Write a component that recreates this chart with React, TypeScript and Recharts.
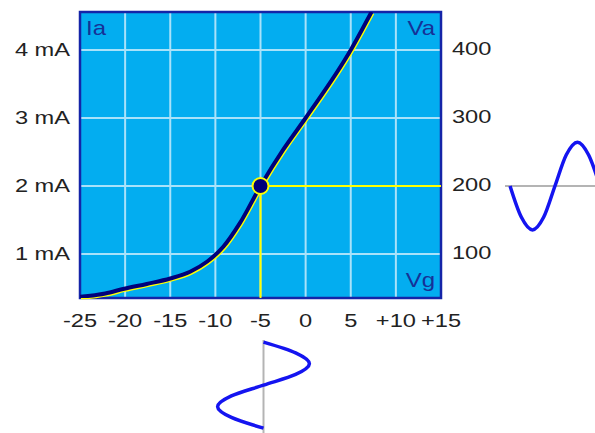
import React from 'react';
import {
  LineChart,
  Line,
  XAxis,
  YAxis,
  CartesianGrid,
  ReferenceLine,
  ReferenceDot,
  ReferenceArea,
} from 'recharts';

// ---- Tube characteristic: grid voltage (V) vs anode current (mA)
const gridVoltage = [-25, -22.2, -20.1, -17.6, -15, -12.8, -10.9, -9.1, -7.3, -5, -2.5, 0, 5, 7.3];
const anodeCurrent = [0.37, 0.42, 0.49, 0.56, 0.64, 0.74, 0.89, 1.11, 1.45, 2.0, 2.53, 3.0, 4.0, 4.56];

// ---- Axes
const xTicks = [-25, -20, -15, -10, -5, 0, 5, 10, 15];
const xTickLabels = ['-25', '-20', '-15', '-10', '-5', '0', '5', '+10', '+15'];
const iaTicks = [1, 2, 3, 4];
const iaTickLabels = ['1 mA', '2 mA', '3 mA', '4 mA'];
const vaTicks = [100, 200, 300, 400];
const vaTickLabels = ['100', '200', '300', '400'];
const iaDomain = [0.353, 4.559];
const vaDomain = [35.3, 455.9];
const vgDomain = [-25, 15];

// ---- Operating point
const operatingVg = -5;
const operatingIa = 2;

// ---- Output signal (anode voltage, V) sampled every 1/8 period
const outputPhase = [0, 1, 2, 3, 4, 5, 6, 7, 8];
const outputVa = [200, 154, 135, 154, 200, 246, 265, 246, 200];

// ---- Input signal (grid voltage, V) sampled every 1/8 period
const inputPhase = [0, 1, 2, 3, 4, 5, 6, 7, 8];
const inputVg = [-5, -1.5, 0, -1.5, -5, -8.5, -10, -8.5, -5];

const curveData = gridVoltage.map((vg, i) => ({ vg, ia: anodeCurrent[i] }));
const outData = outputPhase.map((t, i) => ({ t, va: outputVa[i] }));
const inData = inputPhase.map((t, i) => ({ t, vg: inputVg[i] }));

const FONT = "'Liberation Sans', Arial, sans-serif";
const TICK_COLOR = '#222222';
const NAVY = '#00007a';
const YELLOW = '#ffff00';

const XTick = (props: any) => {
  const { x, y, payload } = props;
  const label = xTickLabels[xTicks.indexOf(payload.value)];
  return (
    <text
      transform={`translate(${x},${y + 29}) scale(1.35,1)`}
      textAnchor="middle"
      fontSize={17.5}
      fontFamily={FONT}
      fill={TICK_COLOR}
    >
      {label}
    </text>
  );
};

const LeftTick = (props: any) => {
  const { x, y, payload } = props;
  const label = iaTickLabels[iaTicks.indexOf(payload.value)];
  return (
    <text
      transform={`translate(${x - 10},${y + 6}) scale(1.35,1)`}
      textAnchor="end"
      fontSize={17.5}
      fontFamily={FONT}
      fill={TICK_COLOR}
    >
      {label}
    </text>
  );
};

const RightTick = (props: any) => {
  const { x, y, payload } = props;
  const label = vaTickLabels[vaTicks.indexOf(payload.value)];
  return (
    <text
      transform={`translate(${x + 11},${y + 5}) scale(1.35,1)`}
      textAnchor="start"
      fontSize={17.5}
      fontFamily={FONT}
      fill={TICK_COLOR}
    >
      {label}
    </text>
  );
};

export default function App() {
  return (
    <div
      style={{
        position: 'absolute',
        left: 0,
        top: 0,
        width: 595,
        height: 433,
        overflow: 'hidden',
        background: '#ffffff',
      }}
    >
      <style>{`.curve-glow path{transform:translate(0.9px,1.2px);}`}</style>
      <div style={{ position: 'absolute', left: 0, top: 0 }}>
        <LineChart
          width={595}
          height={433}
          data={curveData}
          margin={{ top: 12, right: 94, bottom: 95, left: 0 }}
        >
          <CartesianGrid
            yAxisId="ia"
            fill="#03adf0"
            fillOpacity={1}
            stroke="#a8e2fa"
            strokeWidth={2}
          />
          <XAxis
            type="number"
            dataKey="vg"
            domain={vgDomain}
            ticks={xTicks}
            tick={XTick}
            tickSize={0}
            tickMargin={0}
            tickLine={false}
            axisLine={false}
            height={40}
            allowDataOverflow
            interval={0}
          />
          <YAxis
            yAxisId="ia"
            type="number"
            domain={iaDomain}
            ticks={iaTicks}
            tick={LeftTick}
            tickSize={0}
            tickMargin={0}
            tickLine={false}
            axisLine={false}
            width={80}
            allowDataOverflow
            interval={0}
          />
          <YAxis
            yAxisId="va"
            orientation="right"
            type="number"
            domain={vaDomain}
            ticks={vaTicks}
            tick={RightTick}
            tickSize={0}
            tickMargin={0}
            tickLine={false}
            axisLine={false}
            width={60}
            allowDataOverflow
            interval={0}
          />
          <Line
            yAxisId="ia"
            className="curve-glow"
            dataKey="ia"
            type="monotone"
            stroke={YELLOW}
            strokeWidth={4}
            dot={false}
            activeDot={false}
            isAnimationActive={false}
          />
          <Line
            yAxisId="ia"
            dataKey="ia"
            type="monotone"
            stroke={NAVY}
            strokeWidth={4}
            dot={false}
            activeDot={false}
            isAnimationActive={false}
          />
          <ReferenceLine
            yAxisId="ia"
            segment={[
              { x: operatingVg, y: operatingIa },
              { x: vgDomain[1], y: operatingIa },
            ]}
            stroke={YELLOW}
            strokeWidth={2}
          />
          <ReferenceLine
            yAxisId="ia"
            segment={[
              { x: operatingVg, y: operatingIa },
              { x: operatingVg, y: iaDomain[0] },
            ]}
            stroke={YELLOW}
            strokeWidth={2}
          />
          <ReferenceArea
            yAxisId="ia"
            x1={vgDomain[0]}
            x2={vgDomain[1]}
            y1={iaDomain[0]}
            y2={iaDomain[1]}
            fill="none"
            fillOpacity={0}
            stroke="#1424a8"
            strokeWidth={2.5}
            strokeOpacity={1}
          />
          <ReferenceDot
            yAxisId="ia"
            x={operatingVg}
            y={operatingIa}
            r={8}
            fill={NAVY}
            stroke={YELLOW}
            strokeWidth={2}
          />
        </LineChart>
      </div>

      {/* Output (anode) signal */}
      <div style={{ position: 'absolute', left: 505, top: 122 }}>
        <LineChart
          width={96}
          height={128}
          data={outData}
          margin={{ top: 10, right: 0, bottom: 10, left: 0 }}
        >
          <XAxis type="number" dataKey="t" domain={[-0.45, 8.1]} hide />
          <YAxis type="number" domain={[120, 280]} hide />
          <ReferenceLine y={200} stroke="#b4b4b4" strokeWidth={2} />
          <Line
            dataKey="va"
            type="monotone"
            stroke="#1414f0"
            strokeWidth={3.5}
            dot={false}
            activeDot={false}
            isAnimationActive={false}
          />
        </LineChart>
      </div>

      {/* Input (grid) signal */}
      <div style={{ position: 'absolute', left: 213, top: 330 }}>
        <LineChart
          layout="vertical"
          width={101}
          height={113}
          data={inData}
          margin={{ top: 10, right: 0, bottom: 10, left: 0 }}
        >
          <XAxis type="number" domain={[-10.5, 0.5]} hide />
          <YAxis type="number" dataKey="t" domain={[-0.2, 8.45]} hide />
          <ReferenceLine x={-5} stroke="#b4b4b4" strokeWidth={2} />
          <Line
            dataKey="vg"
            type="monotone"
            stroke="#1414f0"
            strokeWidth={3.5}
            dot={false}
            activeDot={false}
            isAnimationActive={false}
          />
        </LineChart>
      </div>

      {/* Corner labels */}
      <svg
        width={595}
        height={433}
        style={{ position: 'absolute', left: 0, top: 0, pointerEvents: 'none' }}
      >
        <text transform="translate(86,35) scale(1.2,1)" fontSize={20} fontFamily={FONT} fill="#163197">
          Ia
        </text>
        <text
          transform="translate(435,35) scale(1.2,1)"
          textAnchor="end"
          fontSize={20}
          fontFamily={FONT}
          fill="#163197"
        >
          Va
        </text>
        <text
          transform="translate(435,287) scale(1.2,1)"
          textAnchor="end"
          fontSize={20}
          fontFamily={FONT}
          fill="#163197"
        >
          Vg
        </text>
      </svg>
    </div>
  );
}
